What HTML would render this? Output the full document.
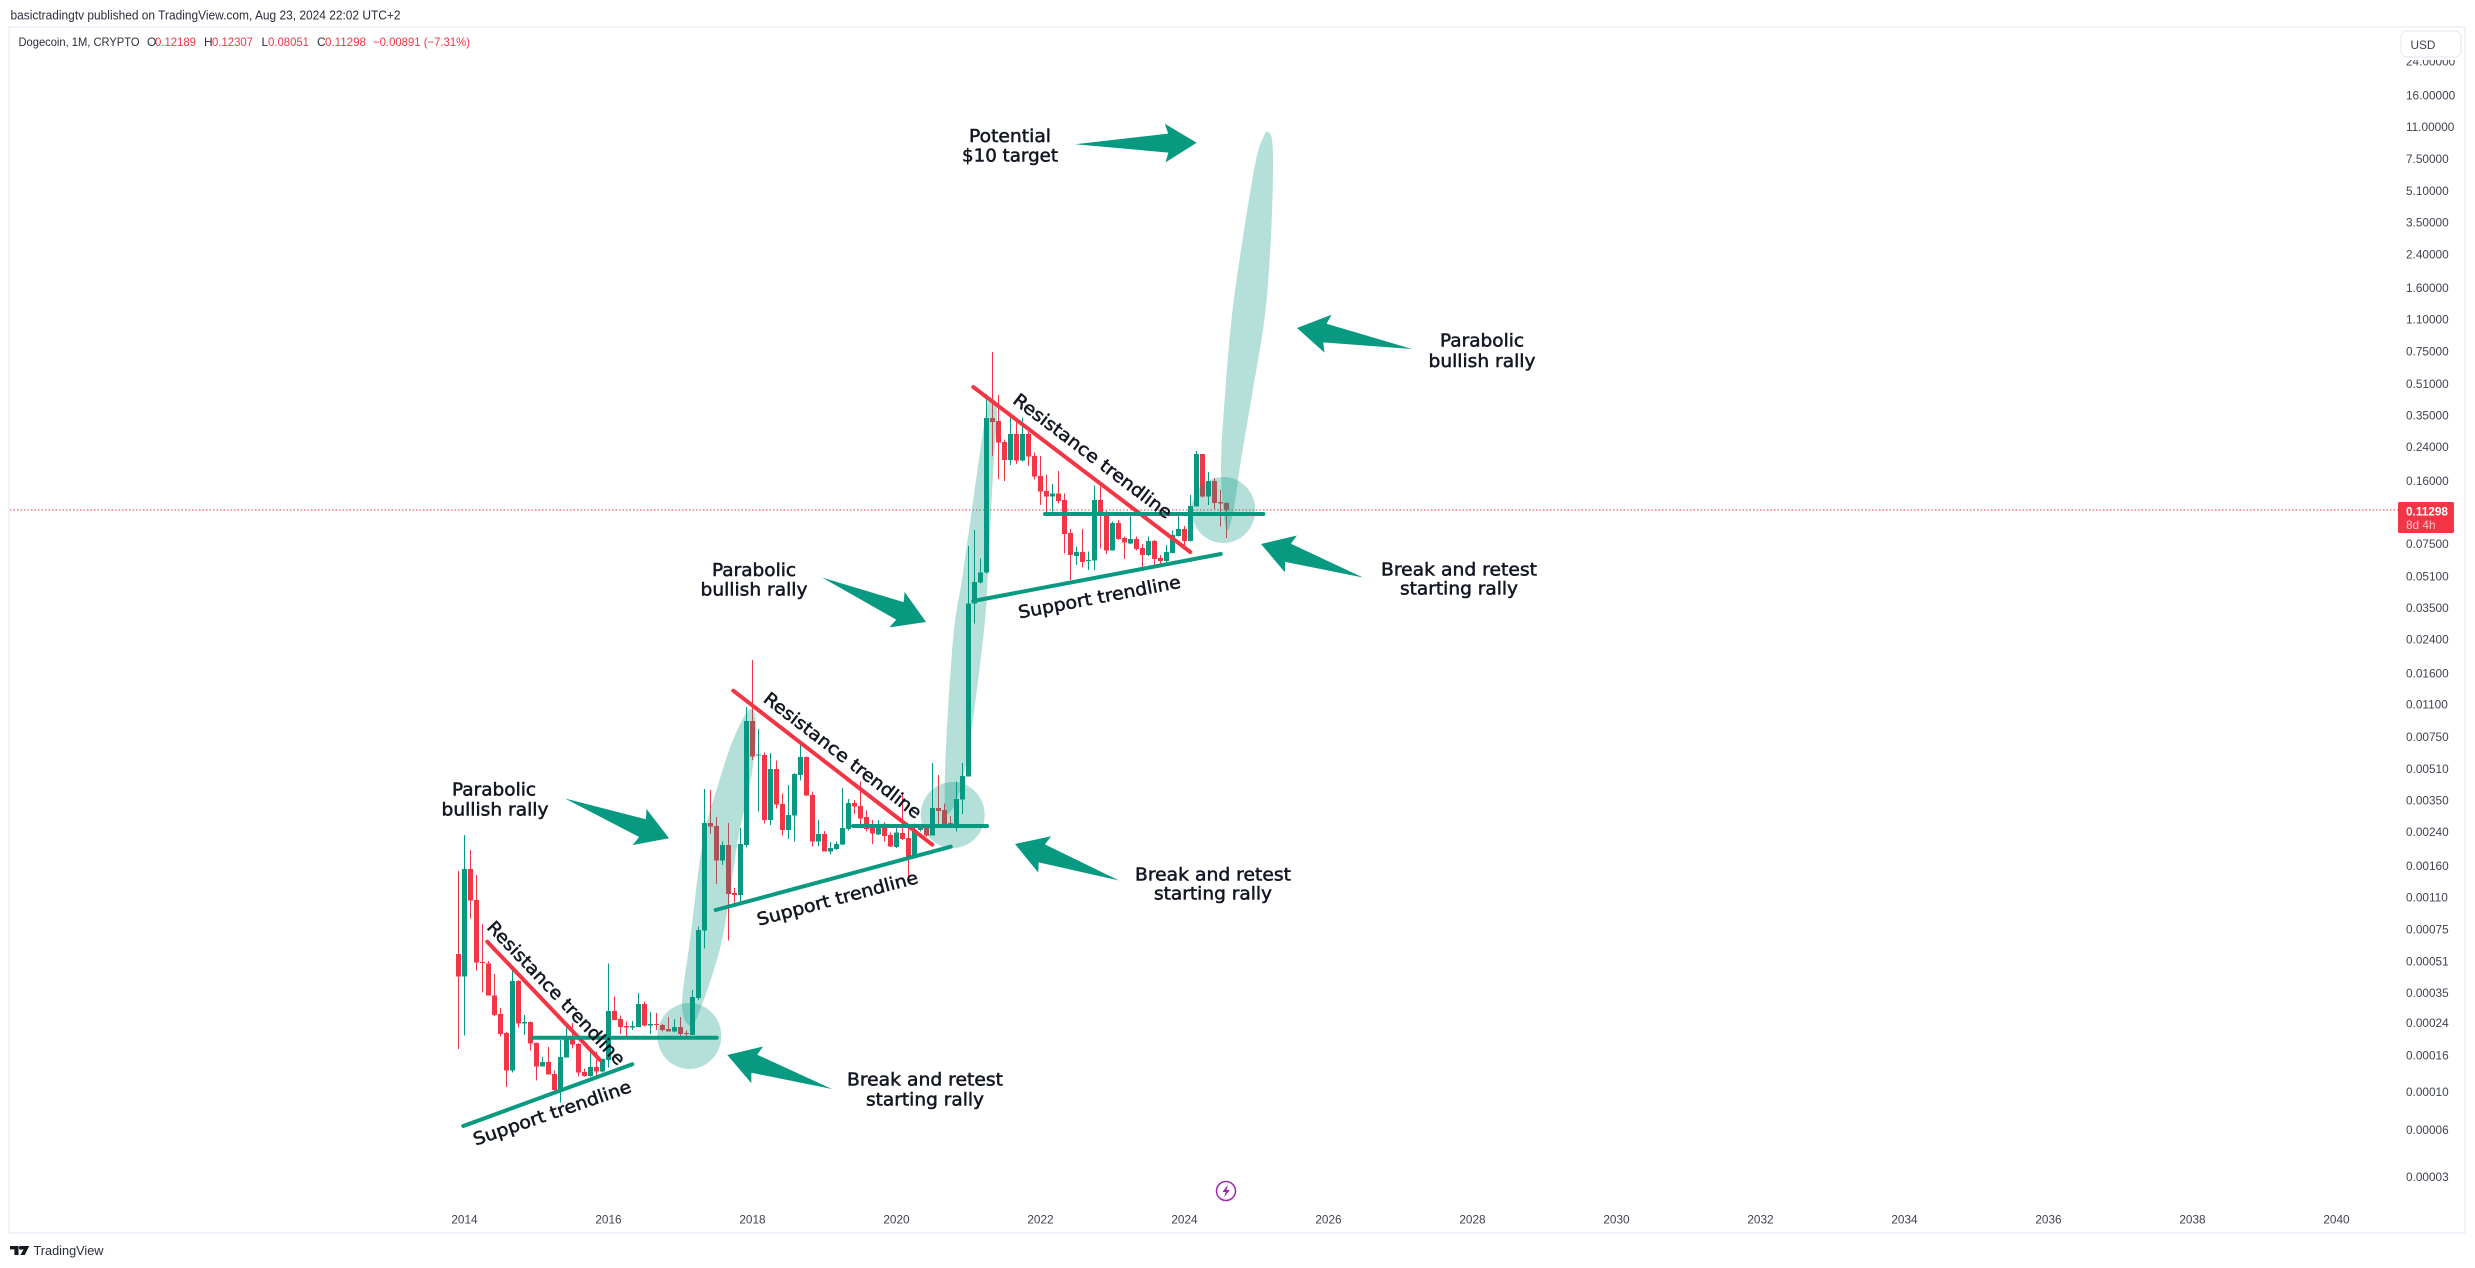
<!DOCTYPE html>
<html lang="en">
<head>
<meta charset="utf-8">
<title>Dogecoin 1M chart</title>
<style>
html,body{margin:0;padding:0;background:#fff;width:2475px;height:1268px;overflow:hidden}
svg{display:block;position:absolute;left:0;top:0}
.ui{font-family:"Liberation Sans",sans-serif}
.note{font-family:"DejaVu Sans","Liberation Sans",sans-serif;font-size:17.6px;fill:#131722;stroke:#131722;stroke-width:.5px;text-anchor:middle}
.axis{font-family:"Liberation Sans",sans-serif;font-size:11.8px;fill:#3f434f}
</style>
</head>
<body>
<svg id="chart" xmlns="http://www.w3.org/2000/svg" width="2475" height="1268" viewBox="0 0 2475 1268">
  <rect width="2475" height="1268" fill="#fff"/>
  <text class="ui" x="10.5" y="19.5" font-size="13" fill="#2a2e39" textLength="390" lengthAdjust="spacingAndGlyphs">basictradingtv published on TradingView.com, Aug 23, 2024 22:02 UTC+2</text>
  <rect x="9" y="27" width="2456" height="1206" fill="none" stroke="#f0f3fa" stroke-width="2"/>

  <g class="ui" font-size="12">
    <text x="18.5" y="46" fill="#2a2e39" textLength="121" lengthAdjust="spacingAndGlyphs">Dogecoin, 1M, CRYPTO</text>
    <text x="147" y="46" fill="#2a2e39">O</text>
    <text x="155" y="46" fill="#f23645" textLength="41" lengthAdjust="spacingAndGlyphs">0.12189</text>
    <text x="204" y="46" fill="#2a2e39">H</text>
    <text x="212" y="46" fill="#f23645" textLength="41" lengthAdjust="spacingAndGlyphs">0.12307</text>
    <text x="261.5" y="46" fill="#2a2e39">L</text>
    <text x="268" y="46" fill="#f23645" textLength="41" lengthAdjust="spacingAndGlyphs">0.08051</text>
    <text x="317" y="46" fill="#2a2e39">C</text>
    <text x="325" y="46" fill="#f23645" textLength="41" lengthAdjust="spacingAndGlyphs">0.11298</text>
    <text x="373" y="46" fill="#f23645" textLength="97" lengthAdjust="spacingAndGlyphs">−0.00891 (−7.31%)</text>
  </g>

  <line x1="10" y1="510" x2="2398" y2="510" stroke="#f23645" stroke-width="1" stroke-dasharray="1.5 2"/>

  <g id="candles"></g>
  <g id="priceAxis"></g>
  <g id="timeAxis"></g>

  <g fill="#089981" fill-opacity=".3">
    <ellipse cx="689.3" cy="1036" rx="32" ry="33"/>
    <ellipse cx="952.7" cy="815" rx="32" ry="33"/>
    <ellipse cx="1223.3" cy="510" rx="32" ry="33"/>
    <g id="rallyShapes"></g>
  </g>

  <g fill="none" stroke-width="4" stroke-linecap="round">
    <line x1="487.3" y1="941.7" x2="600" y2="1060" stroke="#f23645"/>
    <line x1="533" y1="1037.7" x2="716.7" y2="1037.7" stroke="#089981"/>
    <line x1="463.3" y1="1126" x2="632.3" y2="1064.3" stroke="#089981"/>
    <line x1="733.3" y1="690.7" x2="932.3" y2="844.7" stroke="#f23645"/>
    <line x1="853" y1="826" x2="987" y2="826" stroke="#089981"/>
    <line x1="715.7" y1="910" x2="950.7" y2="846.7" stroke="#089981"/>
    <line x1="973.3" y1="387" x2="1190.3" y2="552" stroke="#f23645"/>
    <line x1="1045" y1="514" x2="1263.3" y2="514" stroke="#089981"/>
    <line x1="973.3" y1="601" x2="1220.7" y2="554" stroke="#089981"/>
  </g>

  <g id="arrows"></g>

  <g>
    <text class="note" transform="translate(556.5 992.7) rotate(46.4)" y="6.5" textLength="191" lengthAdjust="spacingAndGlyphs">Resistance trendline</text>
    <text class="note" transform="translate(552 1112.5) rotate(-19)" y="6.5" textLength="166" lengthAdjust="spacingAndGlyphs">Support trendline</text>
    <text class="note" transform="translate(843 755) rotate(37.7)" y="6.5" textLength="194" lengthAdjust="spacingAndGlyphs">Resistance trendline</text>
    <text class="note" transform="translate(837.3 898) rotate(-15)" y="6.5" textLength="166" lengthAdjust="spacingAndGlyphs">Support trendline</text>
    <text class="note" transform="translate(1093 455.7) rotate(37.2)" y="6.5" textLength="194" lengthAdjust="spacingAndGlyphs">Resistance trendline</text>
    <text class="note" transform="translate(1099.3 596.7) rotate(-10.8)" y="6.5" textLength="165" lengthAdjust="spacingAndGlyphs">Support trendline</text>

    <text class="note" x="1010" y="142" textLength="82" lengthAdjust="spacingAndGlyphs">Potential</text>
    <text class="note" x="1010" y="161.7" textLength="96" lengthAdjust="spacingAndGlyphs">$10 target</text>

    <text class="note" x="494" y="795.5" textLength="84" lengthAdjust="spacingAndGlyphs">Parabolic</text>
    <text class="note" x="495" y="815.5" textLength="107" lengthAdjust="spacingAndGlyphs">bullish rally</text>
    <text class="note" x="754" y="576" textLength="84" lengthAdjust="spacingAndGlyphs">Parabolic</text>
    <text class="note" x="754" y="595.5" textLength="107" lengthAdjust="spacingAndGlyphs">bullish rally</text>
    <text class="note" x="1482" y="346.5" textLength="84" lengthAdjust="spacingAndGlyphs">Parabolic</text>
    <text class="note" x="1482" y="367" textLength="107" lengthAdjust="spacingAndGlyphs">bullish rally</text>

    <text class="note" x="925" y="1085.5" textLength="156" lengthAdjust="spacingAndGlyphs">Break and retest</text>
    <text class="note" x="925" y="1105.5" textLength="118" lengthAdjust="spacingAndGlyphs">starting rally</text>
    <text class="note" x="1213" y="880.5" textLength="156" lengthAdjust="spacingAndGlyphs">Break and retest</text>
    <text class="note" x="1213" y="899.5" textLength="118" lengthAdjust="spacingAndGlyphs">starting rally</text>
    <text class="note" x="1459" y="575.5" textLength="156" lengthAdjust="spacingAndGlyphs">Break and retest</text>
    <text class="note" x="1459" y="594.5" textLength="118" lengthAdjust="spacingAndGlyphs">starting rally</text>
  </g>

  <rect x="2399" y="28.5" width="64" height="31.5" fill="#fff"/>
  <g>
    <rect x="2401" y="31" width="60" height="26" rx="6" fill="#fff" stroke="#e6e8f0" stroke-width="1.2"/>
    <text class="axis" x="2410.5" y="49" fill="#131722">USD</text>
  </g>

  <g>
    <rect x="2398" y="502" width="56" height="31" rx="1.5" fill="#f23645"/>
    <text class="ui" x="2406" y="515.3" font-size="11.8" font-weight="700" fill="#fff">0.11298</text>
    <text class="ui" x="2406" y="529" font-size="11.8" fill="#fff" fill-opacity=".72">8d 4h</text>
  </g>

  <g>
    <circle cx="1226" cy="1191" r="9.5" fill="#fff" stroke="#9c27b0" stroke-width="1.5"/>
    <path d="M1228 1184.5 L1222.5 1192 H1225.8 L1224 1197.5 L1229.8 1190 H1226.4 Z" fill="#9c27b0"/>
  </g>

  <g>
    <path d="M10 1246 H18.5 V1255 H14.4 V1249.4 H10 Z M20 1246 H29.2 L24.8 1255 H20.4 L23.6 1249.5 H21.7 A1.9 1.9 0 0 1 20 1246 Z" fill="#131722"/>
    <text class="ui" x="33.5" y="1255" font-size="13" fill="#2a2e39" textLength="70" lengthAdjust="spacingAndGlyphs">TradingView</text>
  </g>
</svg>

<script>
// Monthly DOGE candles, Dec 2013 to Aug 2024, as log10(price in USD).
const logOpen = [-3.254,-3.372,-2.813,-2.974,-3.296,-3.303,-3.469,-3.566,-3.664,-3.860,-3.394,-3.616,-3.607,-3.716,-3.839,-3.815,-3.877,-3.960,-3.792,-3.685,-3.721,-3.867,-3.887,-3.841,-3.865,-3.804,-3.550,-3.592,-3.628,-3.637,-3.633,-3.514,-3.626,-3.619,-3.623,-3.644,-3.657,-3.633,-3.664,-3.675,-3.484,-3.133,-2.574,-2.589,-2.769,-2.688,-2.939,-2.947,-2.688,-2.044,-2.224,-2.221,-2.558,-2.294,-2.475,-2.610,-2.536,-2.325,-2.231,-2.428,-2.671,-2.631,-2.723,-2.709,-2.686,-2.605,-2.470,-2.486,-2.543,-2.596,-2.633,-2.584,-2.636,-2.698,-2.626,-2.653,-2.740,-2.610,-2.596,-2.640,-2.496,-2.506,-2.574,-2.596,-2.453,-2.333,-1.434,-1.326,-1.274,-0.472,-0.487,-0.596,-0.690,-0.555,-0.693,-0.555,-0.669,-0.773,-0.851,-0.880,-0.863,-0.897,-1.069,-1.188,-1.167,-1.212,-1.212,-0.897,-0.975,-1.160,-1.016,-1.094,-1.122,-1.099,-1.146,-1.183,-1.110,-1.198,-1.214,-1.172,-1.084,-1.048,-1.110,-0.932,-0.658,-0.880,-0.798,-0.907,-0.914];
const logHigh = [-2.823,-2.637,-2.715,-2.844,-3.099,-3.291,-3.358,-3.536,-3.659,-3.337,-3.389,-3.571,-3.605,-3.713,-3.789,-3.737,-3.860,-3.701,-3.623,-3.614,-3.716,-3.848,-3.761,-3.761,-3.796,-3.303,-3.476,-3.574,-3.605,-3.602,-3.457,-3.502,-3.555,-3.562,-3.618,-3.581,-3.592,-3.581,-3.652,-3.441,-3.112,-2.397,-2.403,-2.544,-2.671,-2.574,-2.913,-2.600,-1.973,-1.728,-2.086,-2.207,-2.212,-2.250,-2.420,-2.377,-2.316,-2.164,-2.228,-2.411,-2.558,-2.615,-2.672,-2.671,-2.392,-2.449,-2.454,-2.358,-2.510,-2.558,-2.558,-2.572,-2.624,-2.596,-2.420,-2.601,-2.576,-2.584,-2.584,-2.264,-2.325,-2.472,-2.537,-2.359,-2.264,-1.136,-1.053,-1.200,-0.347,-0.129,-0.352,-0.583,-0.451,-0.491,-0.468,-0.534,-0.650,-0.669,-0.764,-0.814,-0.747,-0.863,-1.048,-1.139,-1.048,-1.165,-0.821,-0.828,-0.954,-1.010,-1.001,-1.087,-0.978,-1.087,-1.125,-1.087,-1.105,-1.183,-1.131,-1.056,-0.978,-1.032,-0.871,-0.643,-0.658,-0.753,-0.784,-0.845,-0.910];
const logLow = [-3.749,-3.678,-3.071,-3.341,-3.455,-3.471,-3.576,-3.683,-3.946,-3.870,-3.637,-3.675,-3.756,-3.912,-3.839,-3.881,-3.974,-4.026,-3.792,-3.746,-3.891,-3.891,-3.894,-3.894,-3.870,-3.844,-3.600,-3.669,-3.687,-3.649,-3.633,-3.631,-3.669,-3.649,-3.657,-3.657,-3.661,-3.697,-3.683,-3.675,-3.493,-3.225,-2.631,-2.890,-2.792,-3.185,-2.999,-2.982,-2.702,-2.247,-2.515,-2.576,-2.584,-2.498,-2.640,-2.657,-2.671,-2.354,-2.434,-2.697,-2.697,-2.723,-2.738,-2.714,-2.688,-2.614,-2.527,-2.584,-2.619,-2.683,-2.636,-2.671,-2.700,-2.704,-2.662,-2.861,-2.749,-2.619,-2.645,-2.640,-2.584,-2.601,-2.601,-2.619,-2.527,-2.333,-1.538,-1.330,-1.278,-0.669,-0.788,-0.799,-0.716,-0.710,-0.698,-0.721,-0.790,-0.923,-0.975,-0.958,-0.915,-1.174,-1.313,-1.235,-1.247,-1.261,-1.261,-1.148,-1.177,-1.160,-1.105,-1.203,-1.125,-1.160,-1.255,-1.188,-1.240,-1.229,-1.220,-1.174,-1.087,-1.131,-1.113,-0.932,-0.885,-0.923,-0.944,-1.035,-1.094];
const logClose = [-3.372,-2.813,-2.977,-3.299,-3.301,-3.471,-3.571,-3.669,-3.860,-3.394,-3.616,-3.607,-3.720,-3.839,-3.815,-3.881,-3.960,-3.789,-3.688,-3.725,-3.870,-3.887,-3.841,-3.865,-3.799,-3.550,-3.597,-3.633,-3.637,-3.628,-3.514,-3.626,-3.618,-3.624,-3.649,-3.657,-3.633,-3.669,-3.671,-3.477,-3.130,-2.574,-2.593,-2.769,-2.688,-2.942,-2.947,-2.683,-2.044,-2.230,-2.219,-2.558,-2.294,-2.479,-2.610,-2.532,-2.319,-2.231,-2.432,-2.671,-2.631,-2.723,-2.704,-2.683,-2.600,-2.470,-2.489,-2.550,-2.605,-2.629,-2.586,-2.641,-2.697,-2.624,-2.657,-2.752,-2.610,-2.593,-2.640,-2.496,-2.513,-2.579,-2.596,-2.449,-2.330,-1.434,-1.323,-1.273,-0.472,-0.491,-0.600,-0.690,-0.555,-0.693,-0.555,-0.672,-0.776,-0.854,-0.880,-0.863,-0.903,-1.074,-1.183,-1.167,-1.219,-1.208,-0.897,-0.975,-1.160,-1.016,-1.099,-1.118,-1.099,-1.151,-1.183,-1.110,-1.203,-1.214,-1.167,-1.079,-1.048,-1.110,-0.928,-0.658,-0.880,-0.798,-0.913,-0.916,-0.947];

// Price axis: where each tick sits (USD) and the text it prints.
const tickPrices = [24,16,11,7.5,5.1,3.5,2.4,1.6,1.1,0.75,0.51,0.35,0.24,0.16,0.075,0.051,0.035,0.024,0.016,0.011,0.0075,0.0051,0.0035,0.0024,0.0016,0.0011,0.00075,0.00051,0.00035,0.000245,0.000166,0.000107,0.000068,0.0000388];
const tickLabels = ["24.00000","16.00000","11.00000","7.50000","5.10000","3.50000","2.40000","1.60000","1.10000","0.75000","0.51000","0.35000","0.24000","0.16000","0.07500","0.05100","0.03500","0.02400","0.01600","0.01100","0.00750","0.00510","0.00350","0.00240","0.00160","0.00110","0.00075","0.00051","0.00035","0.00024","0.00016","0.00010","0.00006","0.00003"];

// Time axis labels, as years.
const yearLabels = [2014,2016,2018,2020,2022,2024,2026,2028,2030,2032,2034,2036,2038,2040];

// Callout arrows: tail and tip, in screen coordinates.
const arrowTails = [[565,798.5],[822,577.5],[1412,349],[1075,144.3],[832,1089],[1119,880.5],[1363,577.5]];
const arrowTips = [[669,838.3],[926,622],[1297,328],[1196.7,142.7],[727.3,1055],[1015,844],[1261,544]];

// Outlines of the three translucent rally shapes, in screen coordinates.
const rallyOutlines = [
  [[690,1026],[682,1005],[690,940],[703,840],[718,785],[733,740],[749,710],[756,722],[752,773],[738,840],[722,940],[700,1010]],
  [[948,814],[945,773],[953,640],[963,573],[977,473],[987,407],[992,398],[997,412],[993,473],[988,573],[983,640],[965,770]],
  [[1226,528],[1221,470],[1225,395],[1232,315],[1243,237],[1256,160],[1264,136],[1268,132],[1272,140],[1273,170],[1271,237],[1265,315],[1252,395],[1241,460],[1233,513]]
];

const SVG_NS = "http://www.w3.org/2000/svg";
const UP = "#089981";
const DOWN = "#f23645";

function yOfLog(logPrice) {
  return 415 - 192.6 * (logPrice - Math.log10(0.35));
}
function xOfBar(index) {
  return 458.5 + 6 * index;
}
function xOfYear(year) {
  return xOfBar(1 + (year - 2014) * 12);
}
function make(tag, parent) {
  const el = document.createElementNS(SVG_NS, tag);
  parent.appendChild(el);
  return el;
}

const candleLayer = document.getElementById("candles");
logOpen.forEach(function (open, i) {
  const close = logClose[i];
  const colour = close >= open ? UP : DOWN;
  const cx = xOfBar(i);
  const group = make("g", candleLayer);
  
  
  group.setAttribute("shape-rendering", "crispEdges");

  const yHigh = yOfLog(logHigh[i]);
  const yLow = yOfLog(logLow[i]);
  const wick = make("rect", group);
  
  
  wick.setAttribute("x", cx - 0.5);
  wick.setAttribute("y", yHigh);
  wick.setAttribute("width", 1);
  wick.setAttribute("height", Math.max(1, yLow - yHigh));
  wick.setAttribute("fill", colour);

  const yTop = yOfLog(Math.max(open, close));
  const yBottom = yOfLog(Math.min(open, close));
  const body = make("rect", group);
  
  
  body.setAttribute("x", cx - 2.5);
  body.setAttribute("y", yTop);
  body.setAttribute("width", 5);
  body.setAttribute("height", Math.max(1, yBottom - yTop));
  body.setAttribute("fill", colour);
});

const priceAxis = document.getElementById("priceAxis");
tickPrices.forEach(function (price, i) {
  const label = make("text", priceAxis);
  
  
  label.setAttribute("class", "axis");
  label.setAttribute("x", 2406);
  label.setAttribute("y", yOfLog(Math.log10(price)) + 4.3);
  label.textContent = tickLabels[i];
});

const timeAxis = document.getElementById("timeAxis");
yearLabels.forEach(function (year) {
  const label = make("text", timeAxis);
  
  
  label.setAttribute("class", "axis");
  label.setAttribute("fill", "#131722");
  label.setAttribute("text-anchor", "middle");
  label.setAttribute("x", xOfYear(year));
  label.setAttribute("y", 1223.3);
  label.textContent = year;
});

const rallyLayer = document.getElementById("rallyShapes");
rallyOutlines.forEach(function (pts) {
  const n = pts.length;
  let d = "M" + pts[0][0] + "," + pts[0][1];
  for (let i = 0; i < n; i++) {
    const p0 = pts[(i - 1 + n) % n], p1 = pts[i], p2 = pts[(i + 1) % n], p3 = pts[(i + 2) % n];
    d += " C" + (p1[0] + (p2[0] - p0[0]) / 6) + "," + (p1[1] + (p2[1] - p0[1]) / 6) +
         " " + (p2[0] - (p3[0] - p1[0]) / 6) + "," + (p2[1] - (p3[1] - p1[1]) / 6) +
         " " + p2[0] + "," + p2[1];
  }
  const shape = make("path", rallyLayer);
  
  
  shape.setAttribute("d", d + " Z");
});

const arrowLayer = document.getElementById("arrows");
arrowTails.forEach(function (tail, i) {
  const tip = arrowTips[i];
  const dx = tip[0] - tail[0], dy = tip[1] - tail[1];
  const len = Math.hypot(dx, dy);
  const ux = dx / len, uy = dy / len, nx = -uy, ny = ux;
  const at = function (back, side) {
    return (tip[0] - ux * back + nx * side).toFixed(1) + "," + (tip[1] - uy * back + ny * side).toFixed(1);
  };
  const arrow = make("polygon", arrowLayer);
  
  
  arrow.setAttribute("fill", UP);
  arrow.setAttribute("points", [
    tail[0] + "," + tail[1], at(28.4, -9.5), at(31.5, -19.3), at(0, 0), at(31.5, 19.3), at(28.4, 9.5)
  ].join(" "));
});
</script>
</body>
</html>
